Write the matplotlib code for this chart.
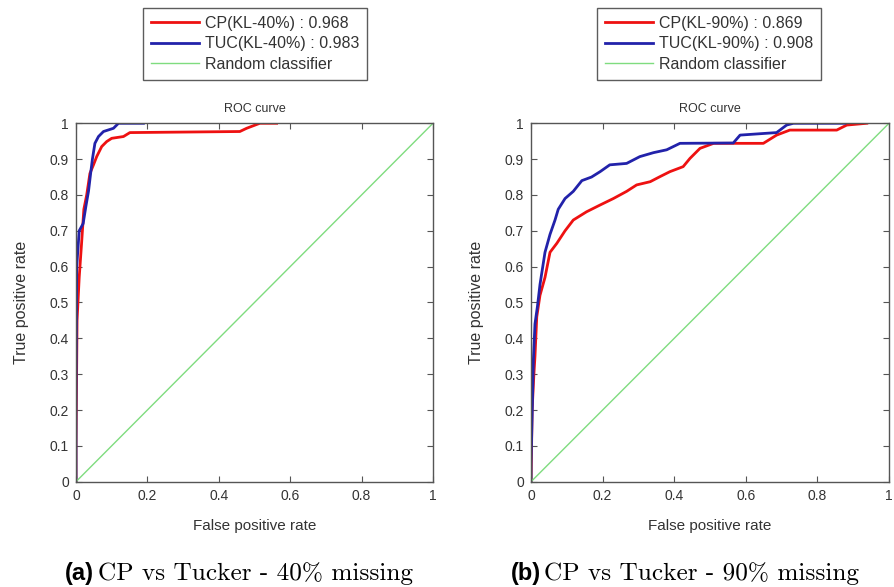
import matplotlib.pyplot as plt

plt.rcParams['font.family'] = ['Liberation Sans', 'DejaVu Sans']

# panel (a): 40% missing
cp40_fpr = [0.0, 0.0, 0.003, 0.009, 0.016, 0.022, 0.030, 0.039, 0.049, 0.058, 0.072,
            0.086, 0.100, 0.133, 0.151, 0.459, 0.478, 0.515, 0.562]
cp40_tpr = [0.0, 0.10, 0.45, 0.57, 0.67, 0.76, 0.80, 0.86, 0.884, 0.907, 0.935,
            0.949, 0.958, 0.963, 0.974, 0.977, 0.986, 1.0, 1.0]
tuc40_fpr = [0.0, 0.0, 0.002, 0.009, 0.020, 0.028, 0.035, 0.041, 0.046, 0.053, 0.063,
             0.077, 0.105, 0.119, 0.189]
tuc40_tpr = [0.0, 0.20, 0.60, 0.70, 0.72, 0.77, 0.81, 0.86, 0.90, 0.944, 0.963,
             0.977, 0.986, 1.0, 1.0]

# panel (b): 90% missing
cp90_fpr = [0.0, 0.003, 0.008, 0.011, 0.016, 0.025, 0.039, 0.053, 0.072, 0.095, 0.118,
            0.155, 0.193, 0.230, 0.267, 0.295, 0.333, 0.360, 0.388, 0.425, 0.444,
            0.472, 0.510, 0.649, 0.686, 0.723, 0.854, 0.882, 0.938]
cp90_tpr = [0.0, 0.20, 0.30, 0.35, 0.46, 0.52, 0.57, 0.64, 0.665, 0.70, 0.73,
            0.753, 0.772, 0.79, 0.81, 0.828, 0.837, 0.851, 0.865, 0.879, 0.902,
            0.93, 0.944, 0.944, 0.967, 0.981, 0.981, 0.995, 1.0]
tuc90_fpr = [0.0, 0.0, 0.0065, 0.011, 0.018, 0.025, 0.039, 0.053, 0.067, 0.076, 0.095,
             0.118, 0.142, 0.169, 0.193, 0.220, 0.267, 0.304, 0.342, 0.379, 0.416,
             0.565, 0.584, 0.686, 0.714, 0.733, 0.877]
tuc90_tpr = [0.0, 0.05, 0.34, 0.44, 0.49, 0.55, 0.64, 0.69, 0.73, 0.76, 0.79,
             0.81, 0.84, 0.85, 0.865, 0.884, 0.888, 0.907, 0.918, 0.926, 0.944,
             0.945, 0.967, 0.974, 0.995, 1.0, 1.0]

panels = [
    (cp40_fpr, cp40_tpr, tuc40_fpr, tuc40_tpr, 'CP(KL-40%) : 0.968', 'TUC(KL-40%) : 0.983',
     '(a)', 'CP vs Tucker - 40% missing'),
    (cp90_fpr, cp90_tpr, tuc90_fpr, tuc90_tpr, 'CP(KL-90%) : 0.869', 'TUC(KL-90%) : 0.908',
     '(b)', 'CP vs Tucker - 90% missing'),
]

fig = plt.figure(figsize=(8.94, 5.87), dpi=100)
axes_pos = [[0.085, 0.1794, 0.3993, 0.6106], [0.594, 0.1794, 0.4004, 0.6106]]
legend_x = [0.160, 0.668]
cap_x = [0.073, 0.571]
text_col = '#333333'

for pos, lx, cx, (cf, ct, tf, tt, cpl, tucl, tag, cap) in zip(axes_pos, legend_x, cap_x, panels):
    ax = fig.add_axes(pos)
    ax.plot(cf, ct, color='#ee1111', lw=2, label=cpl)
    ax.plot(tf, tt, color='#2222aa', lw=2, label=tucl)
    ax.plot([0, 1], [0, 1], color='#7fdc7f', lw=1, label='Random classifier')
    ax.set_xlim(0, 1)
    ax.set_ylim(0, 1)
    ax.set_xticks([0, 0.2, 0.4, 0.6, 0.8, 1])
    ax.set_xticklabels(['0', '0.2', '0.4', '0.6', '0.8', '1'])
    ax.set_yticks([i / 10 for i in range(11)])
    ax.set_yticklabels(['0'] + ['0.%d' % i for i in range(1, 10)] + ['1'])
    ax.tick_params(direction='in', top=True, right=True, length=4, width=0.8,
                   labelsize=10, colors='#555555', labelcolor=text_col, pad=5)
    for s in ax.spines.values():
        s.set_color('#555555')
        s.set_linewidth(1)
    ax.set_title('ROC curve', fontsize=9, color=text_col, pad=8)
    ax.set_xlabel('False positive rate', fontsize=11, color=text_col, labelpad=12)
    ax.set_ylabel('True positive rate', fontsize=11.5, color=text_col, labelpad=15)
    leg = ax.legend(loc='upper left', bbox_to_anchor=(lx, 0.987),
                    bbox_transform=fig.transFigure, fontsize=11.5, frameon=True,
                    fancybox=False, handlelength=3.0, handletextpad=0.35,
                    borderpad=0.5, labelspacing=0.35, borderaxespad=0)
    leg.get_frame().set_edgecolor('#333333')
    leg.get_frame().set_linewidth(1)
    for t in leg.get_texts():
        t.set_color(text_col)
    fig.text(cx, 0.012, tag, fontsize=17, fontweight='bold', family='Liberation Sans',
             ha='left', va='baseline')
    fig.text(cx + 0.037, 0.012, cap, fontsize=18.2, family='cmr10',
             ha='left', va='baseline')

fig.savefig('out.png', dpi=100)
